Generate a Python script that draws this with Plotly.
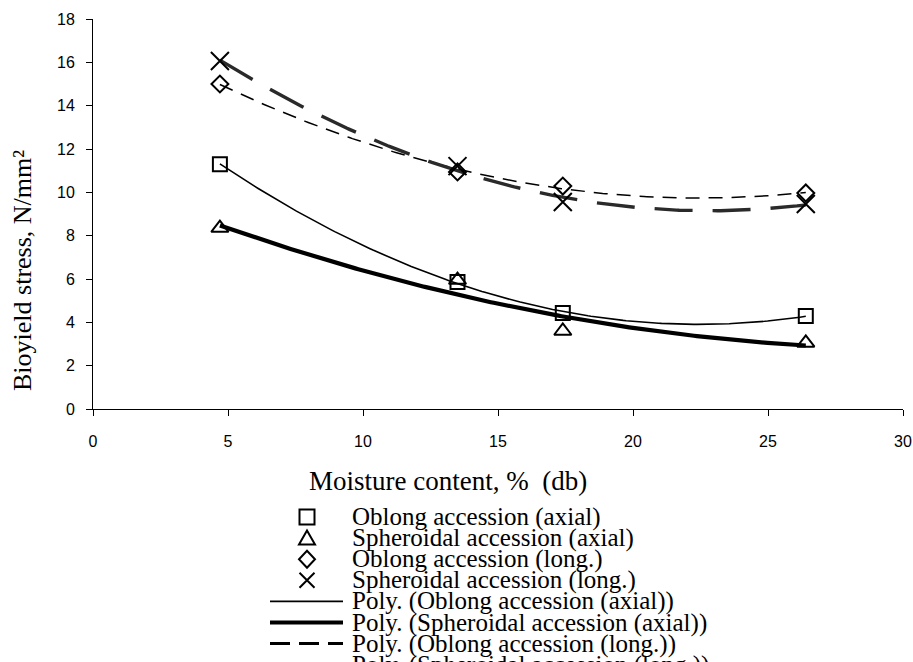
import numpy as np
import plotly.graph_objects as go

# ---- data ----
moisture = [4.7, 13.5, 17.4, 26.4]
oblong_axial = [11.3, 5.86, 4.43, 4.29]
spheroidal_axial = [8.35, 5.95, 3.6, 3.05]
oblong_long = [15.0, 10.94, 10.29, 9.97]
spheroidal_long = [16.06, 11.21, 9.55, 9.46]

series_names = [
    "Oblong accession (axial)",
    "Spheroidal accession (axial)",
    "Oblong accession (long.)",
    "Spheroidal accession (long.)",
]
x_ticks = [0, 5, 10, 15, 20, 25, 30]
y_ticks = [0, 2, 4, 6, 8, 10, 12, 14, 16, 18]

# ---- layout constants ----
W, H = 913, 662
L, R, T, B = 93, 10, 19, 253
PW, PH = W - L - R, H - T - B
SERIF = "Liberation Serif, Times New Roman, serif"
SANS = "Liberation Sans, Arial, sans-serif"


def px2paper_x(px):
    return (px - L) / PW


def px2paper_y(py):
    return (H - B - py) / PH


fig = go.Figure()

# trendlines (2nd order polynomial, like Excel)
xs = np.linspace(min(moisture), max(moisture), 200)
trend_styles = [
    dict(color="black", width=1.6),
    dict(color="black", width=4.2),
    dict(color="black", width=1.5, dash="14px,9px"),
    dict(color="#2a2a2a", width=3.4, dash="38px,20px"),
]
for ys, st, nm in zip([oblong_axial, spheroidal_axial, oblong_long, spheroidal_long],
                      trend_styles, series_names):
    c = np.polyfit(moisture, ys, 2)
    fig.add_trace(go.Scatter(x=xs, y=np.polyval(c, xs), mode="lines", line=st,
                             name="Poly. (" + nm + ")", showlegend=False,
                             hoverinfo="skip"))

symbols = ["square-open", "triangle-up-open", "diamond-open", "x-thin-open"]
sizes = [14, 15, 13, 18]
for ys, sym, sz, nm in zip([oblong_axial, spheroidal_axial, oblong_long, spheroidal_long],
                           symbols, sizes, series_names):
    fig.add_trace(go.Scatter(x=moisture, y=ys, mode="markers", name=nm,
                             marker=dict(symbol=sym, size=sz, color="black",
                                         line=dict(color="black", width=2)),
                             showlegend=False))

# ---- manual legend (Excel style, tight rows) ----
row_y0, row_dy = 517, 21.1
sym_x, text_x = 307, 350
line_x0, line_x1 = 270, 343
legend_labels = series_names + ["Poly. (" + n + ")" for n in series_names]
shapes = []
annotations = []
s = 7.5
sym_paths = [
    f"M{-s},{-s} L{s},{-s} L{s},{s} L{-s},{s} Z",
    f"M{-8},{-6.5} L{8},{-6.5} L0,{7.5} Z",
    f"M0,{-8.5} L{8},0 L0,{8.5} L{-8},0 Z",
    f"M{-7.5},{-7.5} L{7.5},{7.5} M{-7.5},{7.5} L{7.5},{-7.5}",
]
leg_line_styles = [
    dict(color="black", width=1.6),
    dict(color="black", width=4.2),
    dict(color="black", width=3, dash="20px,9px"),
    dict(color="#2a2a2a", width=3.4, dash="20px,9px"),
]
for i, lab in enumerate(legend_labels):
    py = row_y0 + row_dy * i
    yp = px2paper_y(py)
    annotations.append(dict(text=lab, x=px2paper_x(text_x), y=yp, xref="paper", yref="paper",
                            xanchor="left", yanchor="middle", showarrow=False,
                            font=dict(family=SERIF, size=25, color="black")))
    if i < 4:
        shapes.append(dict(type="path", xref="paper", yref="paper",
                           xsizemode="pixel", ysizemode="pixel",
                           xanchor=px2paper_x(sym_x), yanchor=yp,
                           path=sym_paths[i], line=dict(color="black", width=2),
                           fillcolor="rgba(0,0,0,0)"))
    elif py < H - 4:
        shapes.append(dict(type="line", xref="paper", yref="paper",
                           x0=px2paper_x(line_x0), x1=px2paper_x(line_x1), y0=yp, y1=yp,
                           line=leg_line_styles[i - 4]))

# axis titles as annotations (offset like the original)
annotations.append(dict(text="Moisture content, %  (db)", x=px2paper_x(448), y=px2paper_y(481),
                        xref="paper", yref="paper", xanchor="center", yanchor="middle",
                        showarrow=False, font=dict(family=SERIF, size=27, color="black")))
annotations.append(dict(text="Bioyield stress, N/mm²", x=px2paper_x(22), y=px2paper_y(271),
                        xref="paper", yref="paper", xanchor="center", yanchor="middle",
                        textangle=-90, showarrow=False,
                        font=dict(family=SERIF, size=26, color="black")))

fig.update_layout(
    width=W, height=H,
    margin=dict(l=L, r=R, t=T, b=B, pad=0, autoexpand=False),
    plot_bgcolor="white", paper_bgcolor="white",
    showlegend=False,
    shapes=shapes, annotations=annotations,
    xaxis=dict(range=[0, 30], tickvals=x_ticks, ticktext=[str(v) for v in x_ticks],
               automargin=False,
               showline=True, linecolor="black", linewidth=1, mirror=False,
               ticks="outside", ticklen=6, tickcolor="black", showgrid=False,
               zeroline=False, ticklabelstandoff=12,
               tickfont=dict(family=SANS, size=16, color="black")),
    yaxis=dict(range=[0, 18], tickvals=y_ticks, ticktext=[str(v) for v in y_ticks],
               automargin=False,
               showline=True, linecolor="black", linewidth=1, mirror=False,
               ticks="outside", ticklen=6, tickcolor="black", showgrid=False,
               zeroline=False, ticklabelstandoff=8,
               tickfont=dict(family=SANS, size=16, color="black")),
)

fig.write_html("out.html")
